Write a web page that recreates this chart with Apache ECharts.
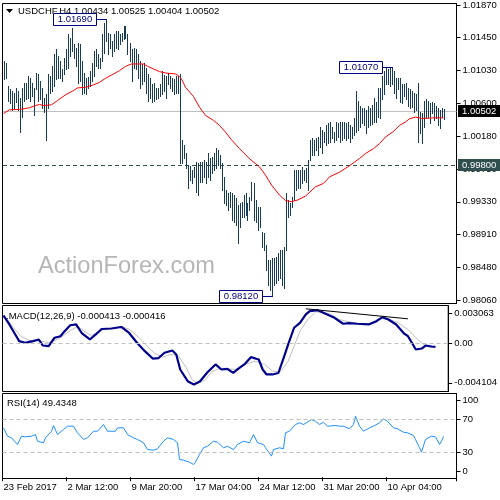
<!DOCTYPE html>
<html><head><meta charset="utf-8">
<script src="https://cdn.jsdelivr.net/npm/echarts@6/dist/echarts.min.js"></script>
<style>html,body{margin:0;padding:0;background:#fff}#c{width:500px;height:500px}</style>
</head><body><div id="c"></div>
<script>
// ---------------- DATA ----------------
const xTickLabels = ['23 Feb 2017','2 Mar 12:00','9 Mar 20:00','17 Mar 04:00','24 Mar 12:00','31 Mar 20:00','10 Apr 04:00'];
const priceTickLabels = ['1.01870','1.01450','1.01030','1.00600','1.00180','0.99750','0.99330','0.98910','0.98480','0.98060'];
const macdTickLabels = ['0.003063','0.00','-0.004104'];
const rsiTickLabels = ['100','70','30','0'];

const highs = [
1.01151,1.01125,1.00830,1.00792,1.00766,1.00740,1.00804,1.00766,1.00676,1.00804,
1.00869,1.00869,1.00958,1.00934,1.00869,1.00804,1.00997,1.00984,1.00894,1.00804,
1.00676,1.00727,1.00984,1.00958,1.01087,1.01241,1.01305,1.01215,1.01151,1.01048,
1.01190,1.01305,1.01498,1.01446,1.01575,1.01369,1.01318,1.01382,1.01369,1.01151,
1.00997,1.00934,1.00946,1.01023,1.01125,1.01279,1.01305,1.01241,1.01190,1.01498,
1.01639,1.01690,1.01510,1.01498,1.01408,1.01498,1.01536,1.01536,1.01498,1.01510,
1.01600,1.01600,1.01498,1.01382,1.01305,1.01318,1.01305,1.01241,1.01151,1.01112,
1.01125,1.01061,1.00984,1.00934,1.00856,1.00869,1.00804,1.00804,1.00856,1.01023,
1.00971,1.00958,1.00997,1.00958,1.00934,1.00920,1.00958,1.00958,1.00984,1.00124,
1.00060,0.99957,0.99803,0.99790,0.99739,0.99778,0.99842,0.99829,0.99842,0.99842,
0.99867,0.99842,0.99957,0.99893,0.99906,0.99957,1.00022,0.99996,0.99931,0.99829,
0.99649,0.99482,0.99443,0.99456,0.99443,0.99417,0.99379,0.99289,0.99315,0.99328,
0.99417,0.99443,0.99315,0.99392,0.99585,0.99572,0.99353,0.99264,0.99264,0.98942,
0.98930,0.98776,0.98583,0.98583,0.98608,0.98608,0.98621,0.98673,0.98711,0.98711,
0.98750,0.99443,0.99353,0.99315,0.99392,0.99739,0.99739,0.99739,0.99739,0.99778,
0.99739,0.99765,0.99867,1.00124,1.00150,1.00124,1.00150,1.00162,1.00291,1.00252,
1.00227,1.00316,1.00342,1.00355,1.00291,1.00227,1.00355,1.00342,1.00355,1.00355,
1.00355,1.00342,1.00355,1.00316,1.00291,1.00406,1.00766,1.00637,1.00573,1.00535,
1.00547,1.00509,1.00573,1.00547,1.00586,1.00676,1.00612,1.00804,1.00804,1.00958,
1.01023,1.01061,1.01048,1.01061,1.01070,1.01023,1.00934,1.00934,1.00934,1.00856,
1.00856,1.00869,1.00804,1.00792,1.00766,1.00740,1.00727,1.00869,1.00483,1.00470,
1.00637,1.00663,1.00637,1.00599,1.00612,1.00599,1.00573,1.00547,1.00509,1.00535,
1.00525];

const lows = [
1.00920,1.00934,1.00637,1.00599,1.00509,1.00547,1.00612,1.00509,1.00227,1.00419,
1.00637,1.00663,1.00676,1.00637,1.00702,1.00445,1.00792,1.00637,1.00663,1.00535,
1.00483,1.00124,1.00547,1.00740,1.00766,1.00830,1.00920,1.00934,1.00934,1.00894,
1.00984,1.01048,1.01061,1.01215,1.01279,1.01190,1.01087,1.00869,1.00894,1.00727,
1.00740,1.00727,1.00804,1.00830,1.00894,1.00958,1.01087,1.01061,1.01061,1.01151,
1.01254,1.01408,1.01241,1.01318,1.01215,1.01279,1.01318,1.01305,1.01369,1.01408,
1.01434,1.01446,1.01241,1.01151,1.00894,1.01061,1.01048,1.00934,1.00804,1.00856,
1.00894,1.00740,1.00637,1.00676,1.00612,1.00637,1.00663,1.00676,1.00702,1.00727,
1.00766,1.00676,1.00856,1.00804,1.00766,1.00727,1.00740,1.00740,0.99829,0.99829,
0.99893,0.99765,0.99507,0.99610,0.99572,0.99649,0.99456,0.99417,0.99585,0.99585,
0.99649,0.99572,0.99649,0.99610,0.99700,0.99739,0.99765,0.99803,0.99765,0.99482,
0.99315,0.99289,0.99225,0.99264,0.99097,0.99071,0.99032,0.98801,0.99007,0.99135,
0.99135,0.99161,0.99097,0.99225,0.99353,0.99097,0.99071,0.98968,0.99007,0.98750,
0.98711,0.98454,0.98262,0.98198,0.98120,0.98262,0.98288,0.98326,0.98352,0.98262,
0.98223,0.98711,0.99135,0.99161,0.99264,0.99353,0.99482,0.99507,0.99507,0.99572,
0.99610,0.99585,0.99482,0.99867,0.99931,0.99931,0.99996,0.99931,1.00034,0.99957,
1.00098,1.00060,1.00086,1.00098,1.00150,1.00098,1.00124,1.00162,1.00098,1.00124,
1.00150,1.00124,1.00150,1.00098,1.00150,1.00188,1.00227,1.00252,1.00291,1.00342,
1.00316,1.00214,1.00291,1.00316,1.00329,1.00355,1.00355,1.00419,1.00406,1.00663,
1.00727,1.00856,1.00856,1.00830,1.00856,1.00740,1.00676,1.00792,1.00612,1.00599,
1.00702,1.00663,1.00573,1.00547,1.00560,1.00483,1.00509,1.00098,1.00214,1.00086,
1.00291,1.00406,1.00419,1.00342,1.00470,1.00381,1.00406,1.00316,1.00278,1.00419,
1.00404];

const maLine = [[0,1.00470],[3,1.00518],[8,1.00522],[13,1.00544],[16,1.00573],[18,1.00586],[20,1.00573],[24,1.00582],[27,1.00637],[31,1.00711],[35,1.00766],[37,1.00800],[41,1.00808],[45,1.00839],[48,1.00872],[51,1.00924],[55,1.00980],[58,1.01023],[61,1.01078],[64,1.01109],[67,1.01109],[70,1.01109],[72,1.01080],[75,1.01044],[78,1.01010],[81,1.00993],[86,1.00980],[88,1.00946],[89,1.00916],[91,1.00808],[95,1.00689],[98,1.00551],[101,1.00445],[105,1.00381],[108,1.00316],[111,1.00230],[114,1.00130],[118,1.00017],[123,0.99886],[128,0.99781],[131,0.99674],[134,0.99546],[138,0.99417],[141,0.99347],[144,0.99332],[147,0.99353],[151,0.99404],[156,0.99524],[160,0.99568],[163,0.99652],[168,0.99713],[173,0.99796],[178,0.99889],[181,0.99953],[185,1.00017],[188,1.00081],[191,1.00166],[195,1.00239],[198,1.00316],[201,1.00361],[203,1.00402],[206,1.00423],[209,1.00406],[213,1.00410],[216,1.00415],[220,1.00413]];

const macdMain = [[0,0.00282],[3,0.00190],[6,0.00087],[8,0.00018],[11,0.00001],[15,0.00018],[18,0.00035],[20,-0.00027],[23,-0.00034],[26,0.00053],[29,0.00069],[31,0.00117],[34,0.00182],[37,0.00190],[40,0.00097],[44,0.00035],[47,0.00087],[50,0.00143],[55,0.00148],[60,0.00164],[64,0.00102],[68,0.00001],[72,-0.00085],[76,-0.00161],[79,-0.00156],[82,-0.00102],[86,-0.00078],[88,-0.00119],[90,-0.00274],[94,-0.00398],[97,-0.00428],[100,-0.00398],[104,-0.00300],[108,-0.00222],[111,-0.00274],[114,-0.00267],[117,-0.00308],[120,-0.00259],[123,-0.00215],[126,-0.00147],[130,-0.00171],[132,-0.00274],[134,-0.00325],[137,-0.00325],[140,-0.00310],[143,-0.00137],[145,-0.00016],[148,0.00156],[151,0.00207],[154,0.00293],[156,0.00327],[160,0.00337],[164,0.00300],[168,0.00265],[173,0.00197],[176,0.00203],[180,0.00197],[186,0.00190],[190,0.00224],[193,0.00265],[196,0.00241],[200,0.00190],[204,0.00097],[206,0.00069],[208,0.00001],[210,-0.00068],[213,-0.00058],[215,-0.00027],[218,-0.00037],[220,-0.000413]];

const macdSignal = [[0,0.00265],[2,0.00241],[5,0.00159],[9,0.00066],[13,0.00025],[18,0.00020],[23,0.00004],[27,0.00032],[30,0.00066],[34,0.00128],[38,0.00169],[42,0.00107],[45,0.00076],[49,0.00128],[54,0.00148],[60,0.00169],[64,0.00141],[69,0.00056],[73,-0.00027],[77,-0.00109],[81,-0.00147],[85,-0.00119],[89,-0.00130],[93,-0.00253],[96,-0.00377],[99,-0.00418],[103,-0.00377],[106,-0.00295],[110,-0.00264],[114,-0.00264],[118,-0.00274],[123,-0.00222],[128,-0.00188],[133,-0.00222],[137,-0.00291],[141,-0.00298],[145,-0.00188],[148,-0.00034],[151,0.00121],[155,0.00241],[159,0.00320],[163,0.00316],[167,0.00293],[171,0.00241],[176,0.00217],[181,0.00200],[186,0.00197],[191,0.00248],[196,0.00248],[201,0.00207],[206,0.00138],[210,0.00053],[214,-0.00016],[217,-0.00044],[220,-0.000416]];

const macdTrend = [[154,0.00351],[206,0.00248]];

const rsiLine = [[0,59.9],[1,57.9],[2,49.8],[4,47.8],[5,45.8],[7,39.7],[9,49.8],[11,49.0],[14,49.8],[16,51.8],[17,43.7],[20,41.8],[21,47.8],[24,55.8],[25,62.7],[27,51.8],[30,57.9],[32,61.9],[35,61.9],[37,53.9],[40,45.8],[42,47.8],[45,55.8],[47,55.8],[50,63.9],[52,55.8],[53,57.9],[56,55.8],[57,59.9],[60,59.9],[62,51.8],[65,47.8],[67,45.8],[70,41.8],[72,33.6],[75,32.8],[77,34.5],[80,43.7],[82,47.8],[85,45.8],[87,41.8],[88,21.5],[90,20.7],[93,18.3],[95,15.5],[96,18.3],[98,27.6],[100,35.7],[102,37.6],[105,43.7],[107,42.5],[110,35.7],[112,37.6],[115,33.6],[117,39.7],[120,43.7],[123,41.8],[125,51.8],[127,41.8],[130,39.7],[131,35.7],[134,25.6],[135,33.6],[138,35.7],[140,34.5],[141,53.9],[143,55.8],[146,63.9],[148,66.0],[150,63.9],[154,70.0],[156,67.9],[158,63.9],[160,66.7],[162,61.9],[166,62.7],[168,61.9],[170,61.9],[173,58.7],[175,63.9],[176,74.0],[178,61.9],[180,55.8],[183,59.9],[185,61.9],[188,66.0],[190,70.7],[192,67.9],[195,59.9],[197,58.7],[200,54.6],[202,53.9],[205,50.6],[206,45.8],[208,35.7],[209,30.4],[211,45.8],[214,49.8],[216,49.0],[218,39.7],[219,43.7],[220,49.4348]];

const lastClose = 1.00502;
const supportLevel = 0.99800;
const notes = [[51,1.01690,'1.01690'],[194,1.01070,'1.01070'],[134,0.98120,'0.98120']];

// ---------------- STYLE ----------------
function fontAvailable(name){
  const c=document.createElement('canvas').getContext('2d');
  const s='abcdefghijklmnop0123456789';
  c.font='20px monospace'; const w1=c.measureText(s).width;
  c.font="20px '"+name+"', monospace"; const w2=c.measureText(s).width;
  return Math.abs(w1-w2)>0.5;
}
const NARROW = fontAvailable('Liberation Sans Narrow');
const FF = NARROW ? "'Liberation Sans Narrow'" : "'Liberation Sans'";
const FS = NARROW ? 11 : 9.5;
const FONT = FS+'px '+FF;
const BAR_COLOR = '#173c5a';

const NCAT = 227;
const cats = []; for (let i=0;i<NCAT;i++) cats.push(String(i));

const priceTickValues = priceTickLabels.map(Number);
const macdTickValues = macdTickLabels.map(Number);
const rsiTickValues = rsiTickLabels.map(Number);
const rsiLabelPos = rsiTickValues.map(v => Math.min(Math.max(v, 7.5), 93.5));

function nearestLabel(vals, labels, v){
  let bi=0, bd=Infinity;
  vals.forEach((x,i)=>{const d=Math.abs(x-v); if(d<bd){bd=d;bi=i;}});
  return labels[bi];
}

const gridBase = {left:2.5, right:43.5, show:true, borderColor:'#000', borderWidth:1, backgroundColor:'#fff', containLabel:false};
const xBase = {type:'category', data:cats, boundaryGap:true, axisLine:{show:false}, axisTick:{show:false}, axisLabel:{show:false}, splitLine:{show:false}};
const yLabel = {color:'#000', fontFamily:FF, fontSize:FS, margin:6};
const yBase = {type:'value', position:'right', splitLine:{show:false}, axisLine:{show:true, lineStyle:{color:'#000'}}};
const showXTick = (i) => i % 32 === 0 && i/32 < xTickLabels.length;

const option = {
  animation:false,
  backgroundColor:'#fff',
  grid:[
    Object.assign({top:0.5, height:303}, gridBase),
    Object.assign({top:305.5, height:86}, gridBase),
    Object.assign({top:393.5, height:85}, gridBase)
  ],
  xAxis:[
    Object.assign({gridIndex:0}, xBase),
    Object.assign({gridIndex:1}, xBase),
    Object.assign({}, xBase, {gridIndex:2,
      axisTick:{show:true, interval:showXTick, length:4, lineStyle:{color:'#000'}},
      axisLabel:{show:true, interval:showXTick, formatter:(v,i)=>xTickLabels[i/32]||'', align:'left', color:'#000', fontFamily:FF, fontSize:FS, margin:4}})
  ],
  yAxis:[
    Object.assign({}, yBase, {gridIndex:0, min:0.98018, max:1.01889,
      axisTick:{show:true, length:4, customValues:priceTickValues, lineStyle:{color:'#000'}},
      axisLabel:Object.assign({customValues:priceTickValues, formatter:v=>nearestLabel(priceTickValues, priceTickLabels, v)}, yLabel)}),
    Object.assign({}, yBase, {gridIndex:1, min:-0.005005, max:0.003851,
      axisTick:{show:true, length:4, customValues:macdTickValues, lineStyle:{color:'#000'}},
      axisLabel:Object.assign({customValues:macdTickValues, formatter:v=>nearestLabel(macdTickValues, macdTickLabels, v)}, yLabel)}),
    Object.assign({}, yBase, {gridIndex:2, min:-1.52, max:101.52,
      axisTick:{show:true, length:4, customValues:rsiLabelPos, lineStyle:{color:'#000'}},
      axisLabel:Object.assign({customValues:rsiLabelPos, formatter:v=>nearestLabel(rsiLabelPos, rsiTickLabels, v)}, yLabel)})
  ],
  series:[
    {type:'custom', xAxisIndex:0, yAxisIndex:0, z:3,
      data: highs.map((h,i)=>[i, lows[i], h]),
      encode:{x:0, y:[1,2]},
      renderItem:(params, api)=>{
        const i = api.value(0);
        const lo = api.coord([i, api.value(1)]);
        const hi = api.coord([i, api.value(2)]);
        const xx = Math.round(lo[0]) + 0.5;
        return {type:'line', shape:{x1:xx, y1:Math.round(hi[1]), x2:xx, y2:Math.round(lo[1])+1}, style:{stroke:BAR_COLOR, lineWidth:1}};
      }},
    {type:'line', xAxisIndex:0, yAxisIndex:0, data:maLine, symbol:'none', z:4, lineStyle:{color:'#ff0000', width:1}},
    {type:'line', xAxisIndex:1, yAxisIndex:1, data:macdSignal, symbol:'none', z:3, lineStyle:{color:'#c0c0c0', width:1},
      markLine:{silent:true, symbol:'none', label:{show:false}, animation:false,
        data:[{yAxis:0, lineStyle:{color:'#c0c0c0', type:[4,3], width:1}},
              [{coord:macdTrend[0], lineStyle:{color:'#000', type:'solid', width:1}}, {coord:macdTrend[1]}]]}},
    {type:'line', xAxisIndex:1, yAxisIndex:1, data:macdMain, symbol:'none', z:4, lineStyle:{color:'#00008b', width:2.2}},
    {type:'line', xAxisIndex:2, yAxisIndex:2, data:rsiLine, symbol:'none', z:4, lineStyle:{color:'#1e90ff', width:1},
      markLine:{silent:true, symbol:'none', label:{show:false}, animation:false,
        data:[{yAxis:70, lineStyle:{color:'#c0c0c0', type:[4,3], width:1}},
              {yAxis:30, lineStyle:{color:'#c0c0c0', type:[4,3], width:1}}]}}
  ]
};

const chart = echarts.init(document.getElementById('c'), null, {renderer:'canvas'});
chart.setOption(option);

// ---------------- ANNOTATIONS ----------------
const g = [];
const gridRight = 456.5;
// horizontal price lines (through the library's y scale)
[[lastClose,'#c0c0c0',null],[supportLevel,'#2f4f4f',[4,3]]].forEach(([val,col,dash])=>{
  const y = Math.round(chart.convertToPixel({yAxisIndex:0}, val)) + 0.5;
  g.push({type:'line', shape:{x1:3, y1:y, x2:gridRight, y2:y}, style:{stroke:col, lineWidth:1, lineDash:dash}, z:1});
});
g.push({type:'polygon', shape:{points:[[6,9],[13,9],[9.5,13]]}, style:{fill:'#000'}, z:20});
g.push({type:'text', x:18, y:11, style:{text:'USDCHF,H4 1.00434 1.00525 1.00404 1.00502', fill:'#000', font:FONT, verticalAlign:'middle'}, z:20});
g.push({type:'text', x:38, y:266, style:{text:'ActionForex.com', fill:'#b6b6b6', font:"23.6px 'Liberation Sans'", verticalAlign:'middle'}, z:1});
g.push({type:'text', x:6, y:316, style:{text:'.MACD(12,26,9) -0.000413 -0.000416', fill:'#000', font:FONT, verticalAlign:'middle'}, z:20});
g.push({type:'text', x:7, y:403, style:{text:'RSI(14) 49.4348', fill:'#000', font:FONT, verticalAlign:'middle'}, z:20});

notes.forEach(([idx, val, txt])=>{
  const p = chart.convertToPixel({xAxisIndex:0, yAxisIndex:0}, [idx, val]);
  const bx = Math.round(p[0]);
  const cy = Math.round(p[1]);
  const right = bx - 10, w = 43, h = 12;
  g.push({type:'line', shape:{x1:right, y1:cy+0.5, x2:bx+0.5, y2:cy+0.5}, style:{stroke:'#000080', lineWidth:1}, z:21});
  g.push({type:'rect', shape:{x:right-w+0.5, y:cy-6+0.5, width:w, height:h}, style:{fill:'#fff', stroke:'#000080', lineWidth:1}, z:21});
  g.push({type:'text', x:right-w/2+0.5, y:cy+0.5, style:{text:txt, fill:'#000080', font:FONT, align:'center', verticalAlign:'middle'}, z:22});
});

[[lastClose,'1.00502','#000'],[supportLevel,'0.99800','#2f4f4f']].forEach(([val, txt, bg])=>{
  const cy = Math.round(chart.convertToPixel({yAxisIndex:0}, val));
  g.push({type:'rect', shape:{x:458, y:cy-6, width:42, height:12}, style:{fill:bg}, z:30});
  g.push({type:'text', x:462, y:cy, style:{text:txt, fill:'#fff', font:FONT, verticalAlign:'middle'}, z:31});
});

chart.setOption({graphic:g});
</script>
</body></html>
